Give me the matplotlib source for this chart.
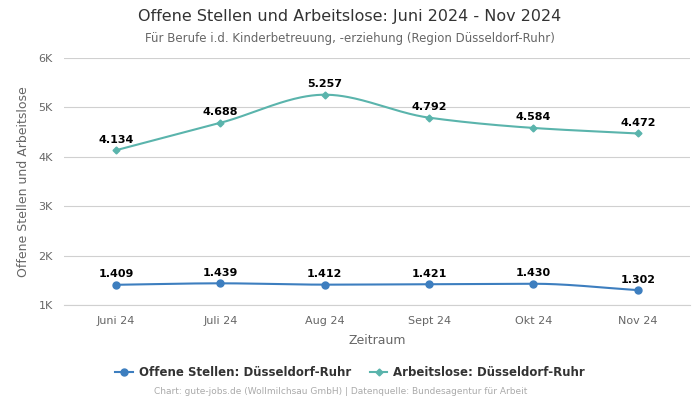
import numpy as np
import matplotlib
matplotlib.use("Agg")
import matplotlib.pyplot as plt
from matplotlib.ticker import FixedLocator
from matplotlib.lines import Line2D

categories = ["Juni 24", "Juli 24", "Aug 24", "Sept 24", "Okt 24", "Nov 24"]
offene = [1409, 1439, 1412, 1421, 1430, 1302]
arbeitslose = [4134, 4688, 5257, 4792, 4584, 4472]
yticks = [1000, 2000, 3000, 4000, 5000, 6000]
ytick_labels = ["1K", "2K", "3K", "4K", "5K", "6K"]

def pchip(x, y, xs):
    x = np.asarray(x, float); y = np.asarray(y, float)
    h = np.diff(x); d = np.diff(y) / h
    n = len(x); m = np.zeros(n)
    for k in range(1, n - 1):
        if d[k - 1] * d[k] > 0:
            w1 = 2 * h[k] + h[k - 1]; w2 = h[k] + 2 * h[k - 1]
            m[k] = (w1 + w2) / (w1 / d[k - 1] + w2 / d[k])
    m[0] = d[0]; m[-1] = d[-1]
    out = np.empty_like(xs)
    for i, xv in enumerate(xs):
        k = min(np.searchsorted(x, xv, side="right") - 1, n - 2)
        t = (xv - x[k]) / h[k]
        h00 = 2*t**3 - 3*t**2 + 1; h10 = t**3 - 2*t**2 + t
        h01 = -2*t**3 + 3*t**2; h11 = t**3 - t**2
        out[i] = h00*y[k] + h10*h[k]*m[k] + h01*y[k+1] + h11*h[k]*m[k+1]
    return out

c_blue = "#3d7ebf"
c_teal = "#5ab4ac"

fig = plt.figure(figsize=(7, 4), dpi=100)
ax = fig.add_axes([0.0914, 0.2375, 0.8943, 0.6175])
x = np.arange(len(categories))
xs = np.linspace(0, len(categories) - 1, 300)

ax.plot(xs, pchip(x, offene, xs), color=c_blue, lw=1.5, zorder=3)
ax.plot(x, offene, "o", color=c_blue, ms=5, zorder=4)
ax.plot(xs, pchip(x, arbeitslose, xs), color=c_teal, lw=1.5, zorder=3)
ax.plot(x, arbeitslose, "D", color=c_teal, ms=3.5, zorder=4)

def fmt(v):
    return f"{v:,}".replace(",", ".")

for xi, v in zip(x, offene):
    ax.annotate(fmt(v), (xi, v), xytext=(0, 4), textcoords="offset points",
                ha="center", va="bottom", fontsize=8, fontweight="bold", color="black")
for xi, v in zip(x, arbeitslose):
    ax.annotate(fmt(v), (xi, v), xytext=(0, 4), textcoords="offset points",
                ha="center", va="bottom", fontsize=8, fontweight="bold", color="black")

ax.set_xlim(-0.5, len(categories) - 0.5)
ax.set_ylim(1000, 6000)
ax.yaxis.set_major_locator(FixedLocator(yticks))
ax.set_yticklabels(ytick_labels)
ax.set_xticks(x)
ax.set_xticklabels(categories)
ax.tick_params(axis="both", length=0, labelsize=8, colors="#666666", pad=8)
ax.grid(axis="y", color="#d0d0d0", lw=0.8)
ax.set_axisbelow(True)
for s in ax.spines.values():
    s.set_visible(False)
ax.spines["bottom"].set_visible(True)
ax.spines["bottom"].set_color("#d0d0d0")
ax.spines["bottom"].set_linewidth(0.8)

ax.set_xlabel("Zeitraum", fontsize=9, color="#666666", labelpad=6)
ax.set_ylabel("Offene Stellen und Arbeitslose", fontsize=9, color="#666666", labelpad=6)

fig.text(0.5, 0.958, "Offene Stellen und Arbeitslose: Juni 2024 - Nov 2024",
         ha="center", va="center", fontsize=11.5, color="#333333")
fig.text(0.5, 0.903, "Für Berufe i.d. Kinderbetreuung, -erziehung (Region Düsseldorf-Ruhr)",
         ha="center", va="center", fontsize=8.5, color="#666666")

handles = [Line2D([], [], color=c_blue, marker="o", ms=5, lw=1.5),
           Line2D([], [], color=c_teal, marker="D", ms=3.5, lw=1.5)]
leg = fig.legend(handles, ["Offene Stellen: Düsseldorf-Ruhr", "Arbeitslose: Düsseldorf-Ruhr"],
                 loc="center", bbox_to_anchor=(0.5, 0.068), ncol=2, frameon=False,
                 prop={"size": 8.5, "weight": "bold"}, handlelength=1.5, columnspacing=1.6,
                 handletextpad=0.5)
for t in leg.get_texts():
    t.set_color("#333333")

fig.text(0.486, 0.02, "Chart: gute-jobs.de (Wollmilchsau GmbH) | Datenquelle: Bundesagentur für Arbeit",
         ha="center", va="center", fontsize=6.5, color="#aaaaaa")

fig.savefig("out.png", dpi=100)
